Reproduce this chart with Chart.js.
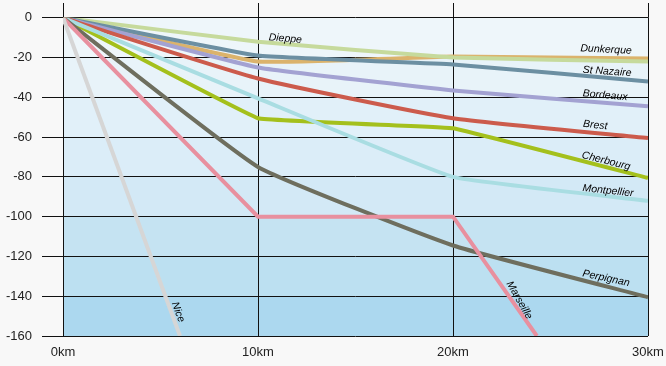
<!DOCTYPE html>
<html>
<head>
<meta charset="utf-8">
<script src="https://cdn.jsdelivr.net/npm/chart.js@4"></script>
<style>
  html, body { margin: 0; padding: 0; background: #f8f8f8; }
  #wrap { width: 666px; height: 366px; }
</style>
</head>
<body>
<div id="wrap"><canvas id="depthChart" width="666" height="366"></canvas></div>
<script>
// distances (km) and depth values
const km = [0, 10, 20, 30];
const marseilleKm = [0, 10, 20, 24.3];
const niceKm = [0, 6];

const dieppe = [0, -12, -20, -22];
const dunkerque = [0, -22, -19.5, -20.5];
const stNazaire = [0, -19, -23.5, -32];
const bordeaux = [0, -25, -36.5, -44.5];
const brest = [0, -30.5, -50.5, -60.5];
const cherbourg = [0, -50.5, -55.5, -80.5];
const montpellier = [0, -40.5, -80, -92];
const perpignan = [0, -75, -114.5, -140.5];
const marseille = [0, -100, -100, -160];
const nice = [0, -160];

const yTicks = [0, -20, -40, -60, -80, -100, -120, -140, -160];
const xTicks = ['0km', '10km', '20km', '30km'];

// labels: text, km, depth, angle (deg)
const lineLabels = [
  ['Dieppe', 11.4, -10.5, 5],
  ['Dunkerque', 27.85, -16, 3],
  ['St Nazaire', 27.9, -27, 4],
  ['Bordeaux', 27.8, -39, 5],
  ['Brest', 27.3, -54, 6],
  ['Cherbourg', 27.85, -72, 14],
  ['Montpellier', 27.95, -87, 6],
  ['Perpignan', 27.85, -131, 12],
  ['Marseille', 23.4, -142, 60],
  ['Nice', 5.9, -148, 70]
];

const bandColors = ['#eef6fa', '#e8f3f9', '#e1f0f9', '#dbedf8', '#d3e9f6', '#c5e3f2', '#bce0f1', '#acd8ef'];

function pts(xs, ys) {
  return ys.map((v, i) => ({ x: xs[i], y: v }));
}

function series(label, xs, ys, color, tension) {
  return {
    label: label,
    data: pts(xs, ys),
    borderColor: color,
    borderWidth: 4,
    pointRadius: 0,
    tension: tension,
    fill: false
  };
}

const bands = {
  id: 'bands',
  beforeDraw(chart) {
    const c = chart.ctx, a = chart.chartArea, y = chart.scales.y;
    for (let i = 0; i < bandColors.length; i++) {
      const top = y.getPixelForValue(yTicks[i]);
      const bot = y.getPixelForValue(yTicks[i + 1]);
      c.fillStyle = bandColors[i];
      c.fillRect(a.left, top, a.right - a.left, bot - top);
    }
    // vertical lines poke above the plot
    const x = chart.scales.x;
    c.save();
    c.strokeStyle = '#111';
    c.lineWidth = 1;
    [0, 10, 20, 30].forEach(v => {
      const px = Math.round(x.getPixelForValue(v)) + 0.5;
      c.beginPath();
      c.moveTo(px, 3);
      c.lineTo(px, a.top);
      c.stroke();
    });
    c.restore();
  }
};

const labelsPlugin = {
  id: 'lineLabels',
  afterDatasetsDraw(chart) {
    const c = chart.ctx, x = chart.scales.x, y = chart.scales.y;
    c.save();
    c.font = 'italic 10.5px "Liberation Sans Narrow", "Liberation Sans", Arial';
    c.fillStyle = '#000';
    c.textAlign = 'center';
    c.textBaseline = 'middle';
    lineLabels.forEach(l => {
      c.save();
      c.translate(x.getPixelForValue(l[1]), y.getPixelForValue(l[2]));
      c.rotate(l[3] * Math.PI / 180);
      c.fillText(l[0], 0, 0);
      c.restore();
    });
    c.restore();
  }
};

const ctx = document.getElementById('depthChart').getContext('2d');
const depthChart = new Chart(ctx, {
  type: 'line',
  data: {
    datasets: [
      series('Nice', niceKm, nice, '#d6d6d6', 0),
      series('Marseille', marseilleKm, marseille, '#e8909f', 0),
      series('Perpignan', km, perpignan, '#6e6e5e', 0.12),
      series('Montpellier', km, montpellier, '#a9dde2', 0.1),
      series('Cherbourg', km, cherbourg, '#a4c01c', 0.05),
      series('Brest', km, brest, '#cc5b4c', 0.15),
      series('Bordeaux', km, bordeaux, '#a3a2d2', 0.1),
      series('St Nazaire', km, stNazaire, '#6c8fa2', 0.1),
      series('Dieppe', km, dieppe, '#c6da9c', 0.1),
      series('Dunkerque', km, dunkerque, '#dbb36c', 0.1)
    ]
  },
  options: {
    responsive: false,
    animation: false,
    layout: { padding: { left: 0, top: 16, right: 18, bottom: 0 } },
    plugins: { legend: { display: false }, tooltip: { enabled: false } },
    scales: {
      x: {
        type: 'linear',
        min: 0,
        max: 30,
        afterFit(s) { s.height = 30; s.paddingRight = 0; s.paddingLeft = 0; },
        afterBuildTicks(s) { s.ticks = [0, 10, 20, 30].map(v => ({ value: v })); },
        border: { display: false },
        grid: { color: '#111', lineWidth: 1, drawTicks: false },
        ticks: {
          padding: 9,
          color: '#222',
          font: { family: '"Liberation Sans", Arial', size: 13 },
          maxRotation: 0,
          callback: (v) => xTicks[[0, 10, 20, 30].indexOf(v)]
        }
      },
      y: {
        min: -160,
        max: 0,
        afterFit(s) { s.width = 63; },
        afterBuildTicks(s) { s.ticks = yTicks.map(v => ({ value: v })); },
        border: { display: false },
        grid: { color: '#111', lineWidth: 1, tickLength: 21 },
        ticks: {
          padding: 10,
          color: '#222',
          font: { family: '"Liberation Sans", Arial', size: 13 }
        }
      }
    }
  },
  plugins: [bands, labelsPlugin]
});
</script>
</body>
</html>
